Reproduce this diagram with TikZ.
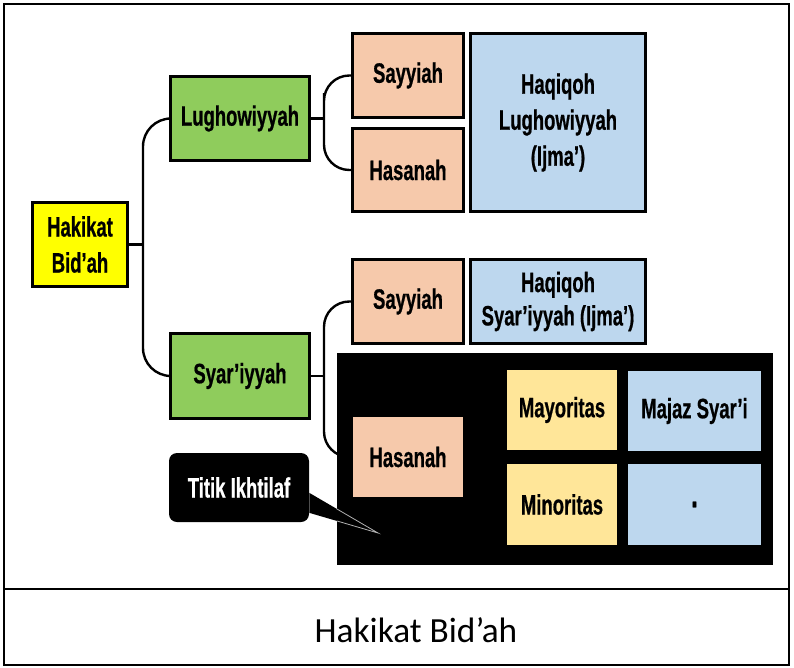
\documentclass[tikz,border=0pt]{standalone}
\usepackage{fontspec}
\setmainfont{Liberation Sans}
\newfontfamily\dfont[FakeStretch=0.66,FakeBold=0.6]{Liberation Sans}
\newfontfamily\capfont{Carlito}
\usetikzlibrary{calc}
\pgfdeclarelayer{bg}
\pgfsetlayers{bg,main}
\definecolor{cyel}{HTML}{FFFF00}
\definecolor{cgreen}{HTML}{8FCC5C}
\definecolor{cpeach}{HTML}{F6C9AB}
\definecolor{cblue}{HTML}{BDD7EE}
\definecolor{cmaj}{HTML}{FFE699}
\tikzset{
  bx/.style={draw=black, line width=2.25pt, inner sep=0pt, align=center,
    font=\dfont\bfseries\fontsize{21}{27}\selectfont},
  fb/.style={inner sep=0pt, align=center,
    font=\dfont\bfseries\fontsize{21}{27}\selectfont},
  conn/.style={draw=black, line width=1.8pt},
}
\begin{document}
\begin{tikzpicture}[x=0.75pt,y=-0.75pt]
\useasboundingbox (0,0) rectangle (794,668);
% frame
\draw[line width=1.2pt] (4,4) rectangle (789,665);
\draw[line width=1.2pt] (4,589) -- (789,589);
\node[anchor=base, font=\capfont\fontsize{26.5}{30}\selectfont] (cap) at (416,642) {Hakikat Bid’ah};
% nodes
\node[bx, fill=cyel, minimum width=71.25pt, minimum height=63pt] (hak) at (80,244.5) {Hakikat\\Bid’ah};
\node[bx, fill=cgreen, minimum width=104.25pt, minimum height=63pt] (lug) at (240,118.5) {Lughowiyyah};
\node[bx, fill=cgreen, minimum width=104.25pt, minimum height=63.75pt] (syr) at (240,376) {Syar’iyyah};
\node[bx, fill=cpeach, minimum width=83.25pt, minimum height=63pt] (say1) at (408,75.5) {Sayyiah};
\node[bx, fill=cpeach, minimum width=83.25pt, minimum height=62.25pt] (has1) at (408,170) {Hasanah};
\node[bx, fill=cblue, minimum width=131.25pt, minimum height=133.5pt] (haql) at (558,122.5) {Haqiqoh\\Lughowiyyah\\(Ijma’)};
\node[bx, fill=cpeach, minimum width=83.25pt, minimum height=63pt] (say2) at (408,301.5) {Sayyiah};
\node[bx, fill=cblue, minimum width=131.25pt, minimum height=63pt, font=\dfont\bfseries\fontsize{21}{25}\selectfont] (haqs) at (558,301.5) {Haqiqoh\\Syar’iyyah (Ijma’)};
\node[fill=black, inner sep=0pt, minimum width=327pt, minimum height=159pt] (blk) at (555,459) {};
\node[fb, fill=cpeach, minimum width=82.5pt, minimum height=60pt] (has2) at (408,457) {Hasanah};
\node[fb, fill=cmaj, minimum width=82.5pt, minimum height=60pt] (may) at (562,410) {Mayoritas};
\node[fb, fill=cmaj, minimum width=82.5pt, minimum height=60.75pt] (min) at (562,504.5) {Minoritas};
\node[fb, fill=cblue, minimum width=99.75pt, minimum height=60pt] (maj) at (694.5,411) {Majaz Syar’i};
\node[fb, fill=cblue, minimum width=99.75pt, minimum height=60.75pt, font=\dfont\bfseries\fontsize{28}{30}\selectfont] (dot) at (694.5,504.5) {.};
% callout
\node[fb, fill=black, text=white, rounded corners=6pt, minimum width=105pt, minimum height=51.75pt] (tit) at (239,487.5) {Titik Ikhtilaf};
\coordinate (tip) at (378,533);
\fill[black] ([yshift=-4pt]tit.east) -- (tip) -- ([yshift=-19pt]tit.east) -- cycle;
\begin{scope}
\clip (blk.north west) rectangle (blk.south east);
\draw[gray!60, line width=0.6pt] ([yshift=-4pt]tit.east) -- (tip) -- ([yshift=-19pt]tit.east);
\end{scope}
% connectors
\begin{pgfonlayer}{bg}
\draw[conn] (hak.east) -- ++(14,0) coordinate (j1);
\draw[conn, rounded corners=21pt] (lug.west) -| (j1) |- (syr.west);
\draw[conn] (lug.east) -- ++(13,0) coordinate (j2);
\draw[conn, rounded corners=19pt] (say1.west) -| (j2) |- (has1.west);
\draw[conn] (syr.east) -- ++(13,0) coordinate (j3);
\draw[conn, rounded corners=19pt] (say2.west) -| (j3) |- (has2.west);
\end{pgfonlayer}
\end{tikzpicture}
\end{document}
